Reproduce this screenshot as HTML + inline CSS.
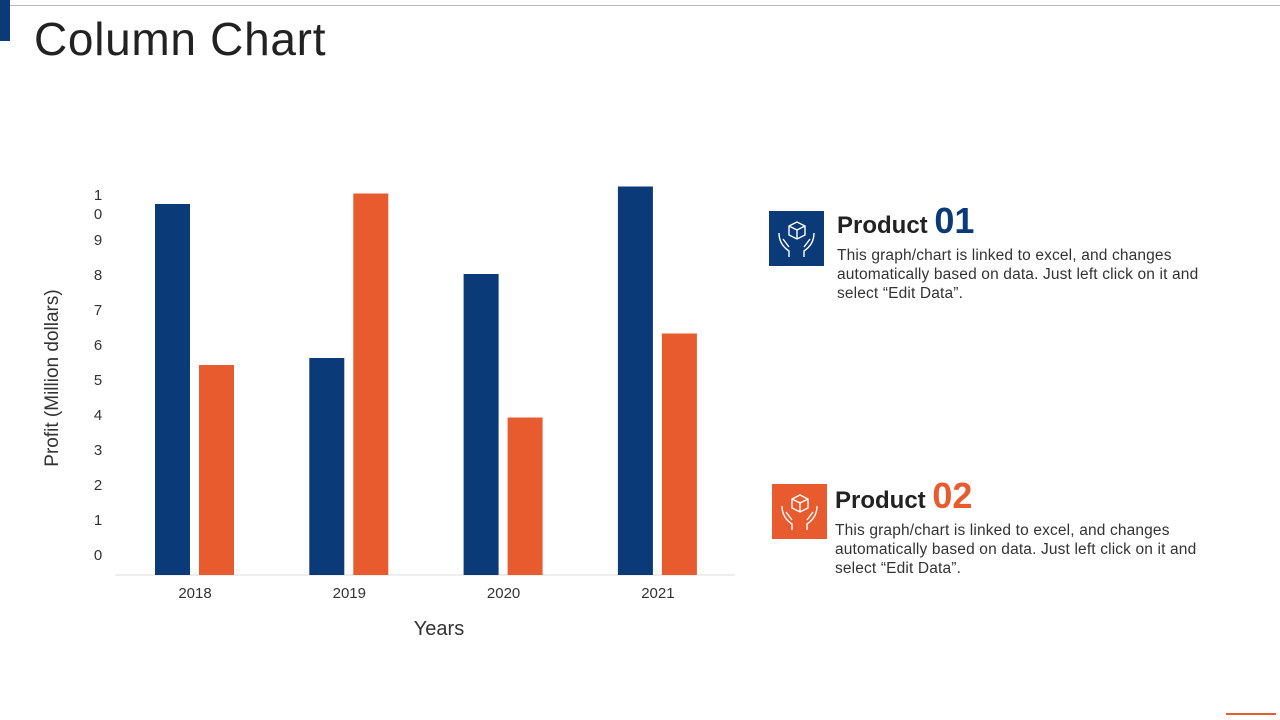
<!DOCTYPE html>
<html><head><meta charset="utf-8"><style>
body{margin:0;width:1280px;height:720px;background:#fff;position:relative;overflow:hidden;font-family:"Liberation Sans",sans-serif}
.t{position:absolute;color:#222}
</style></head><body>
<div style="position:absolute;left:10px;top:5px;width:1270px;height:1px;background:#bbb"></div>
<div style="position:absolute;left:0;top:0;width:10px;height:41px;background:#0a3a78"></div>
<div class="t" style="left:34px;top:12px;font-size:46px;color:#222;letter-spacing:0.7px">Column Chart</div>
<svg id="chart" width="1280" height="720" style="position:absolute;left:0;top:0"></svg>

<div style="position:absolute;left:769px;top:211px;width:55px;height:55px;background:#0a3a78"></div>
<svg width="55" height="55" style="position:absolute;left:769px;top:211px" viewBox="0 0 55 55" fill="none" stroke="#fff" stroke-width="1.4"><path d="M20 15l8-4 8 4v9l-8 4-8-4z M20 15l8 4 8-4 M28 19v9"/><path d="M10 22c0 8 4 14 10 18v6 M45 22c0 8-4 14-10 18v6 M14 28l6 8 M41 28l-6 8"/></svg>
<div class="t" style="left:837px;top:200px;font-size:24px;font-weight:bold"><span style="font-size:24px">Product</span> <span style="font-size:36px;color:#0a3a78">01</span></div>
<div class="t" style="left:837px;top:246px;width:390px;font-size:15.5px;line-height:19px;color:#333;letter-spacing:0.15px">This graph/chart is linked to excel, and changes automatically based on data. Just left click on it and select “Edit Data”.</div>

<div style="position:absolute;left:772px;top:484px;width:55px;height:55px;background:#e85b2e"></div>
<svg width="55" height="55" style="position:absolute;left:772px;top:484px" viewBox="0 0 55 55" fill="none" stroke="#fff" stroke-width="1.4"><path d="M20 15l8-4 8 4v9l-8 4-8-4z M20 15l8 4 8-4 M28 19v9"/><path d="M10 22c0 8 4 14 10 18v6 M45 22c0 8-4 14-10 18v6 M14 28l6 8 M41 28l-6 8"/></svg>
<div class="t" style="left:835px;top:475px;font-size:24px;font-weight:bold"><span>Product</span> <span style="font-size:36px;color:#e85b2e">02</span></div>
<div class="t" style="left:835px;top:521px;width:390px;font-size:15.5px;line-height:19px;color:#333;letter-spacing:0.15px">This graph/chart is linked to excel, and changes automatically based on data. Just left click on it and select “Edit Data”.</div>
<div style="position:absolute;left:1226px;top:713px;width:50px;height:2px;background:#e85b2e"></div>

<script>
const categories=["2018","2019","2020","2021"];
const product1=[10.6,6.2,8.6,11.1];
const product2=[6.0,10.9,4.5,6.9];
const yTicks=[0,1,2,3,4,5,6,7,8,9,10];
const NS="http://www.w3.org/2000/svg";
const svg=document.getElementById('chart');
const y0=575,unit=35,x0=195,step=154.3;
const yScale=v=>y0-v*unit;
const xScale=i=>x0+i*step;
function mk(tag,attrs){const e=document.createElementNS(NS,tag);for(const k in attrs)e.setAttribute(k,attrs[k]);svg.appendChild(e);return e;}
const ax=mk('line',{x1:115,x2:735,y1:y0,y2:y0,stroke:'#ddd'});


yTicks.forEach(v=>{
  if(v===10){
    ['1','0'].forEach((s,j)=>{const t=mk('text',{x:98,y:yScale(v)-21+6-10+j*19,'text-anchor':'middle','font-size':15,fill:'#333','font-family':'Liberation Sans'});t.textContent=s;
    
    });
    return;}
  const t=mk('text',{x:98,y:yScale(v)-21+6,'text-anchor':'middle','font-size':15,fill:'#333','font-family':'Liberation Sans'});
  t.textContent=v;
  
  
});
categories.forEach((c,i)=>{
  const cx=xScale(i);
  const b1=mk('rect',{x:cx-40,y:yScale(product1[i]),width:35,height:product1[i]*unit,fill:'#0a3a78'});
  
  
  const b2=mk('rect',{x:cx+4,y:yScale(product2[i]),width:35,height:product2[i]*unit,fill:'#e85b2e'});
  
  
  const t=mk('text',{x:cx,y:598,'text-anchor':'middle','font-size':15,fill:'#333','font-family':'Liberation Sans'});
  t.textContent=c;
  
  
});
const xt=mk('text',{x:439,y:635,'text-anchor':'middle','font-size':20,fill:'#333','font-family':'Liberation Sans'});
xt.textContent='Years';


const yt=mk('text',{x:0,y:0,'text-anchor':'middle','font-size':19,fill:'#333','font-family':'Liberation Sans',transform:'translate(58,378) rotate(-90)'});
yt.textContent='Profit  (Million dollars)';


</script>
</body></html>
